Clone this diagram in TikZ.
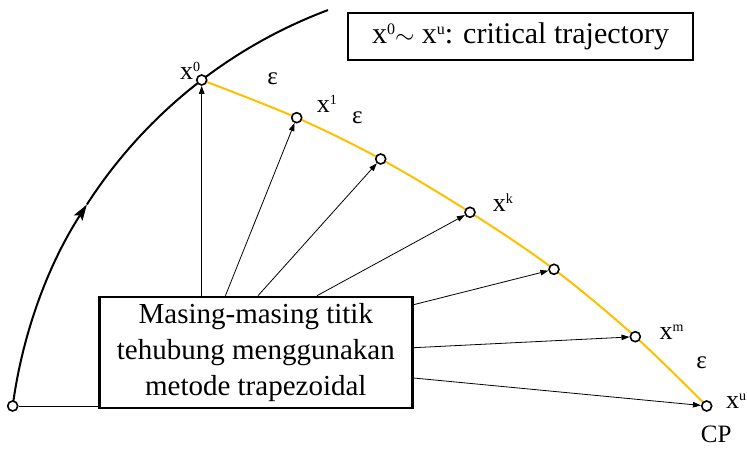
\documentclass[tikz,border=0pt]{standalone}
\usepackage{fontspec}
\setmainfont{Liberation Serif}
\usetikzlibrary{arrows.meta,calc}
\definecolor{traj}{HTML}{FFC000}
\newcommand\sups[1]{\raisebox{8pt}{\fontsize{14}{14}\selectfont #1}}
\begin{document}
\begin{tikzpicture}[x=1pt,y=1pt,
  pt/.style={circle,draw,line width=1.6pt,fill=white,minimum size=10pt,inner sep=0pt},
  arr/.style={line width=0.8pt,-{Triangle[length=8pt,width=5.5pt]}},
  lab/.style={inner sep=0pt,anchor=base west,font=\fontsize{26}{26}\selectfont},
  eps/.style={inner sep=0pt,font=\fontsize{25}{25}\selectfont},
  boxa/.style={draw,line width=1.8pt,inner sep=0pt},
  boxb/.style={draw,line width=2.6pt,inner sep=0pt,fill=white,align=center,font=\fontsize{29}{36}\selectfont}]
\useasboundingbox (0,0) rectangle (747,448);
% positions
\coordinate (cs) at (12.7,42);
\coordinate (c0) at (201.7,368);
\coordinate (c1) at (296.7,330.3);
\coordinate (c2) at (380.7,289);
\coordinate (ck) at (470,235.7);
\coordinate (c4) at (554,178.7);
\coordinate (cm) at (635.3,111.3);
\coordinate (cu) at (706.7,42);
% black trajectory arc
\draw[line width=2pt,-{Stealth[length=16pt,width=10pt,inset=3pt]}] (cs) arc[start angle=172.37,end angle=147.2,radius=492.8] coordinate (ca);
\draw[line width=2pt] (ca) arc[start angle=147.2,end angle=110.57,radius=492.8] coordinate (ce);
% orange critical trajectory
\draw[traj,line width=2pt] plot[smooth,tension=0.55] coordinates {(c0) (c1) (c2) (ck) (c4) (cm) (cu)};
% points
\node[pt] (s) at (cs) {};
\node[pt] (p0) at (c0) {};
\node[pt] (p1) at (c1) {};
\node[pt] (p2) at (c2) {};
\node[pt] (pk) at (ck) {};
\node[pt] (p4) at (c4) {};
\node[pt] (pm) at (cm) {};
\node[pt] (pu) at (cu) {};
% boxes
\node[boxa,minimum width=344.4pt,minimum height=46.7pt,font=\fontsize{30}{30}\selectfont] (legend) at (520.5,411.3)
  {x\raisebox{9pt}{\fontsize{16}{16}\selectfont 0}$\sim$\ x\raisebox{9pt}{\fontsize{16}{16}\selectfont u}: critical trajectory};
\node[boxb,minimum width=313pt,minimum height=111pt] (box) at (255.8,95.5)
  {Masing-masing titik\\tehubung menggunakan\\metode trapezoidal};
% connectors
\draw[line width=0.8pt] (s) -- (s -| box.west);
\draw[arr] (p0 |- box.north) -- (p0);
\draw[arr] ($(box.north west)+(127.4,0)$) -- (p1);
\draw[arr] ($(box.north west)+(160,0)$) -- (p2);
\draw[arr] ($(box.north west)+(219,0)$) -- (pk);
\draw[arr] ($(box.north east)+(0,-9)$) -- (p4);
\draw[arr] ($(box.north east)+(0,-52)$) -- (pm);
\draw[arr] ($(box.north east)+(0,-82.3)$) -- (pu);
% labels
\node[lab] (l0) at (180,368.7) {x\sups{0}};
\node[lab] (l1) at (316.7,335.3) {x\sups{1}};
\node[lab] (lk) at (492.7,237) {x\sups{k}};
\node[lab] (lm) at (659.3,109) {x\sups{m}};
\node[lab] (lu) at (726,39.7) {x\sups{u}};
\node[eps] (e1) at (272.7,369) {ε};
\node[eps] (e2) at (357.3,330) {ε};
\node[eps] (e3) at (701.7,85.3) {ε};
\node[inner sep=0pt,anchor=base west,font=\fontsize{25}{25}\selectfont] (cp) at (700.7,6) {CP};
\end{tikzpicture}
\end{document}
